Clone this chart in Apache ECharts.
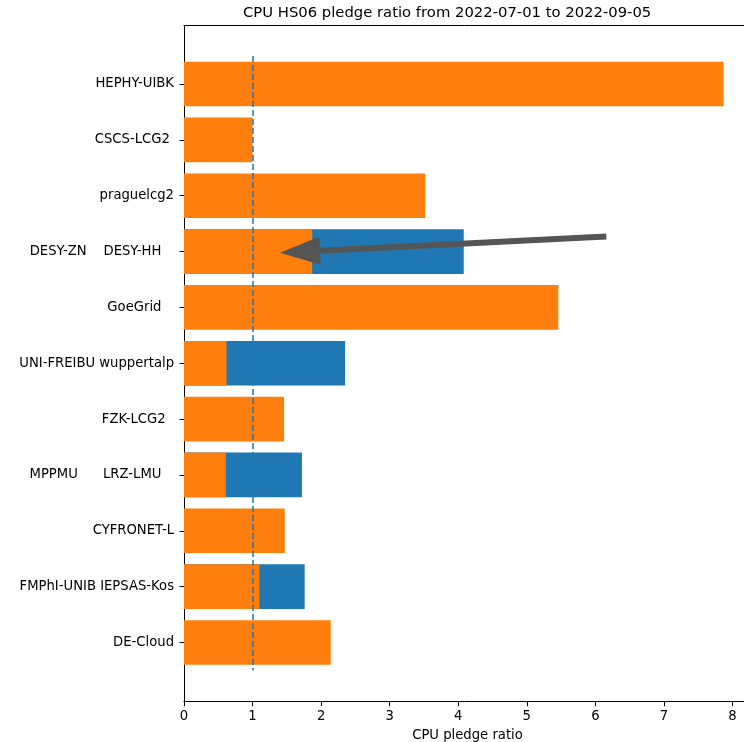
<!DOCTYPE html>
<html>
<head>
<meta charset="utf-8">
<script src="https://cdn.jsdelivr.net/npm/echarts@6/dist/echarts.min.js"></script>
<style>
  html, body { margin: 0; padding: 0; background: #fff; }
  #chart { width: 744px; height: 742px; }
</style>
</head>
<body>
<div id="chart"></div>
<script>
// site labels, top to bottom (names padded like the original tick labels)
const sites = [
  "HEPHY-UIBK",
  "CSCS-LCG2 ",
  "praguelcg2",
  "DESY-ZN    DESY-HH   ",
  "GoeGrid   ",
  "UNI-FREIBU wuppertalp",
  "FZK-LCG2  ",
  "MPPMU      LRZ-LMU   ",
  "CYFRONET-L",
  "FMPhI-UNIB IEPSAS-Kos",
  "DE-Cloud"
];
// orange bars
const pledgeRatio = [7.87, 1.0, 3.52, 1.87, 5.46, 0.62, 1.46, 0.61, 1.47, 1.10, 2.14];
// blue bars (combined sites), drawn underneath
const combinedRatio = [null, null, null, 4.08, null, 2.35, null, 1.72, null, 1.76, null];
const pledgeLine = 1;
const xMax = 8.27;
// annotation arrow, in [ratio, row index]
const arrowFrom = [6.16, 2.73];
const arrowTo = [1.40, 3.02];

const FONT = "DejaVu Sans";
const LABEL_SIZE = 13.2;
const chart = echarts.init(document.getElementById("chart"));

const option = {
  animation: false,
  textStyle: { fontFamily: FONT },
  title: {
    text: "CPU HS06 pledge ratio from 2022-07-01 to 2022-09-05",
    left: 243,
    top: 6,
    padding: 0,
    textStyle: { fontFamily: FONT, fontSize: 14.8, fontWeight: "normal", color: "#000" }
  },
  grid: [
    // frame
    { left: 184, right: -7, top: 25.7, bottom: 40.3, outerBoundsMode: "none" },
    // bars
    { left: 184, right: -7, top: 56.1, bottom: 71.6, outerBoundsMode: "none" }
  ],
  xAxis: [
    {
      gridIndex: 0,
      type: "value",
      position: "bottom",
      min: 0,
      max: xMax,
      interval: 1,
      splitLine: { show: false },
      axisLine: { lineStyle: { color: "#000", width: 1 } },
      axisTick: { length: 4.5, lineStyle: { color: "#000" } },
      axisLabel: {
        margin: 8,
        fontSize: LABEL_SIZE,
        color: "#000",
        fontFamily: FONT,
        formatter: v => (Number.isInteger(v) ? String(v) : "")
      },
      name: "CPU pledge ratio",
      nameLocation: "middle",
      nameGap: 27,
      nameTextStyle: { fontSize: LABEL_SIZE, color: "#000", fontFamily: FONT }
    },
    {
      gridIndex: 0,
      type: "value",
      position: "top",
      min: 0,
      max: xMax,
      splitLine: { show: false },
      axisLine: { show: true, lineStyle: { color: "#000", width: 1 } },
      axisTick: { show: false },
      axisLabel: { show: false }
    },
    {
      gridIndex: 1,
      type: "value",
      min: 0,
      max: xMax,
      show: false
    }
  ],
  yAxis: [
    {
      gridIndex: 0,
      type: "value",
      min: 0,
      max: 1,
      splitLine: { show: false },
      axisLine: { show: true, lineStyle: { color: "#000", width: 1 } },
      axisTick: { show: false },
      axisLabel: { show: false }
    },
    {
      gridIndex: 1,
      type: "category",
      inverse: true,
      data: sites,
      axisLine: { show: false },
      axisTick: { show: true, alignWithLabel: true, length: 4.5, lineStyle: { color: "#000" } },
      axisLabel: {
        interval: 0,
        margin: 10,
        padding: [4, 0, 0, 0],
        fontSize: LABEL_SIZE,
        color: "#000",
        fontFamily: FONT
      }
    },
    {
      gridIndex: 1,
      type: "value",
      inverse: true,
      min: -0.5,
      max: 10.5,
      show: false
    }
  ],
  series: [
    {
      name: "combined",
      type: "bar",
      xAxisIndex: 2,
      yAxisIndex: 1,
      barWidth: "80%",
      barGap: "-100%",
      itemStyle: { color: "#1f77b4" },
      data: combinedRatio
    },
    {
      name: "pledge",
      type: "bar",
      xAxisIndex: 2,
      yAxisIndex: 1,
      barWidth: "80%",
      barGap: "-100%",
      itemStyle: { color: "#ff7f0e" },
      data: pledgeRatio,
      markLine: {
        silent: true,
        symbol: "none",
        label: { show: false },
        lineStyle: { color: "#1f77b4", width: 1.5, type: [6, 3] },
        data: [{ xAxis: pledgeLine }]
      }
    },
    {
      name: "arrow",
      type: "custom",
      xAxisIndex: 2,
      yAxisIndex: 2,
      z: 5,
      encode: { x: [0, 2], y: [1, 3] },
      data: [[arrowFrom[0], arrowFrom[1], arrowTo[0], arrowTo[1]]],
      renderItem: (params, api) => {
        const p0 = api.coord([api.value(0), api.value(1)]);
        const p1 = api.coord([api.value(2), api.value(3)]);
        const dx = p1[0] - p0[0], dy = p1[1] - p0[1];
        const len = Math.sqrt(dx * dx + dy * dy);
        const ux = dx / len, uy = dy / len;
        const nx = -uy, ny = ux;
        const bw = 3, hw = 14, hl = 40;
        const bx = p1[0] - ux * hl, by = p1[1] - uy * hl;
        const pts = [
          [p0[0] + nx * bw, p0[1] + ny * bw],
          [bx + nx * bw, by + ny * bw],
          [bx + nx * hw, by + ny * hw],
          [p1[0], p1[1]],
          [bx - nx * hw, by - ny * hw],
          [bx - nx * bw, by - ny * bw],
          [p0[0] - nx * bw, p0[1] - ny * bw]
        ];
        return { type: "polygon", shape: { points: pts }, style: { fill: "#555555" } };
      }
    }
  ]
};

chart.setOption(option);
</script>
</body>
</html>
